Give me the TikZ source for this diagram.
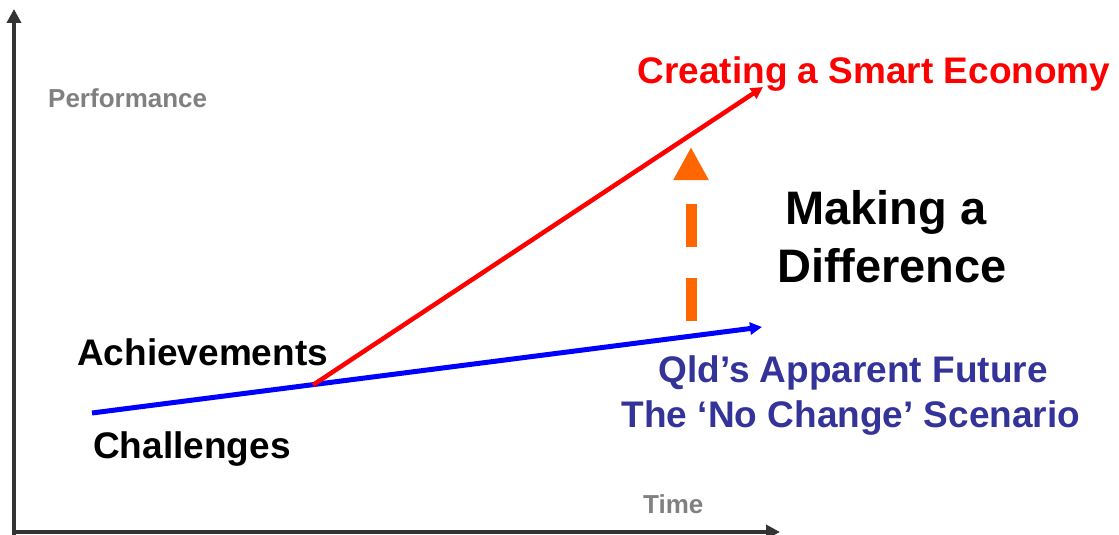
\documentclass[tikz,border=0pt]{standalone}
\usepackage{fontspec}
\setmainfont{Liberation Sans}
\usetikzlibrary{arrows.meta}
\definecolor{axisgray}{HTML}{333333}
\definecolor{labgray}{HTML}{808080}
\definecolor{qblue}{HTML}{333399}
\definecolor{orng}{HTML}{FF6600}
\tikzset{
  lbl/.style={inner sep=0pt, anchor=base, font=\bfseries\fontsize{37}{44}\selectfont},
  small/.style={inner sep=0pt, anchor=base west, text=labgray, font=\bfseries\fontsize{26}{30}\selectfont},
  axis/.style={draw=axisgray, line width=4pt, -{Triangle[length=14pt,width=14pt]}},
  trend/.style={line width=5pt, -{Triangle[length=12pt,width=12pt]}},
}
\begin{document}
\begin{tikzpicture}[x=1pt,y=-1pt]
\useasboundingbox (0,0) rectangle (1119,535);
% axes
\coordinate (o) at (14,532);
\coordinate (ybot) at (14,537);
\coordinate (ytop) at (14,9);
\coordinate (xleft) at (12,532);
\coordinate (xright) at (780,532);
\draw[axis] (ybot) -- (ytop);
\draw[axis] (xleft) -- (xright);
% trend lines
\coordinate (b0) at (92,413);
\coordinate (split) at (313,385);
\coordinate (b1) at (762,327);
\coordinate (r1) at (763,87);
\draw[trend, draw=blue] (b0) -- (b1);
\draw[trend, draw=red, line width=4.5pt] (split) -- (r1);
% orange dashed arrow
\coordinate (d0) at (691,321);
\coordinate (d1) at (691,147);
\draw[orng, line width=11pt, dash pattern=on 43pt off 31pt,
  -{Triangle[length=33pt,width=33pt]}] (d0) -- (d1);
% labels
\node[small] (perf) at (48,107) {Performance};
\node[small] (time) at (643,513) {Time};
\node[lbl, text=red] (smart) at (874,83) {Creating a Smart Economy};
\node[lbl, font=\bfseries\fontsize{47}{56}\selectfont] (mk1) at (886,224) {Making a};
\node[lbl, font=\bfseries\fontsize{47}{56}\selectfont] (mk2) at (892,282) {Difference};
\node[lbl, anchor=base west] (ach) at (77,365) {Achievements};
\node[lbl, anchor=base west] (chal) at (93,458) {Challenges};
\node[lbl, text=qblue] (q1) at (853,382) {Qld’s Apparent Future};
\node[lbl, text=qblue] (q2) at (851,427) {The ‘No Change’ Scenario};
\end{tikzpicture}
\end{document}
